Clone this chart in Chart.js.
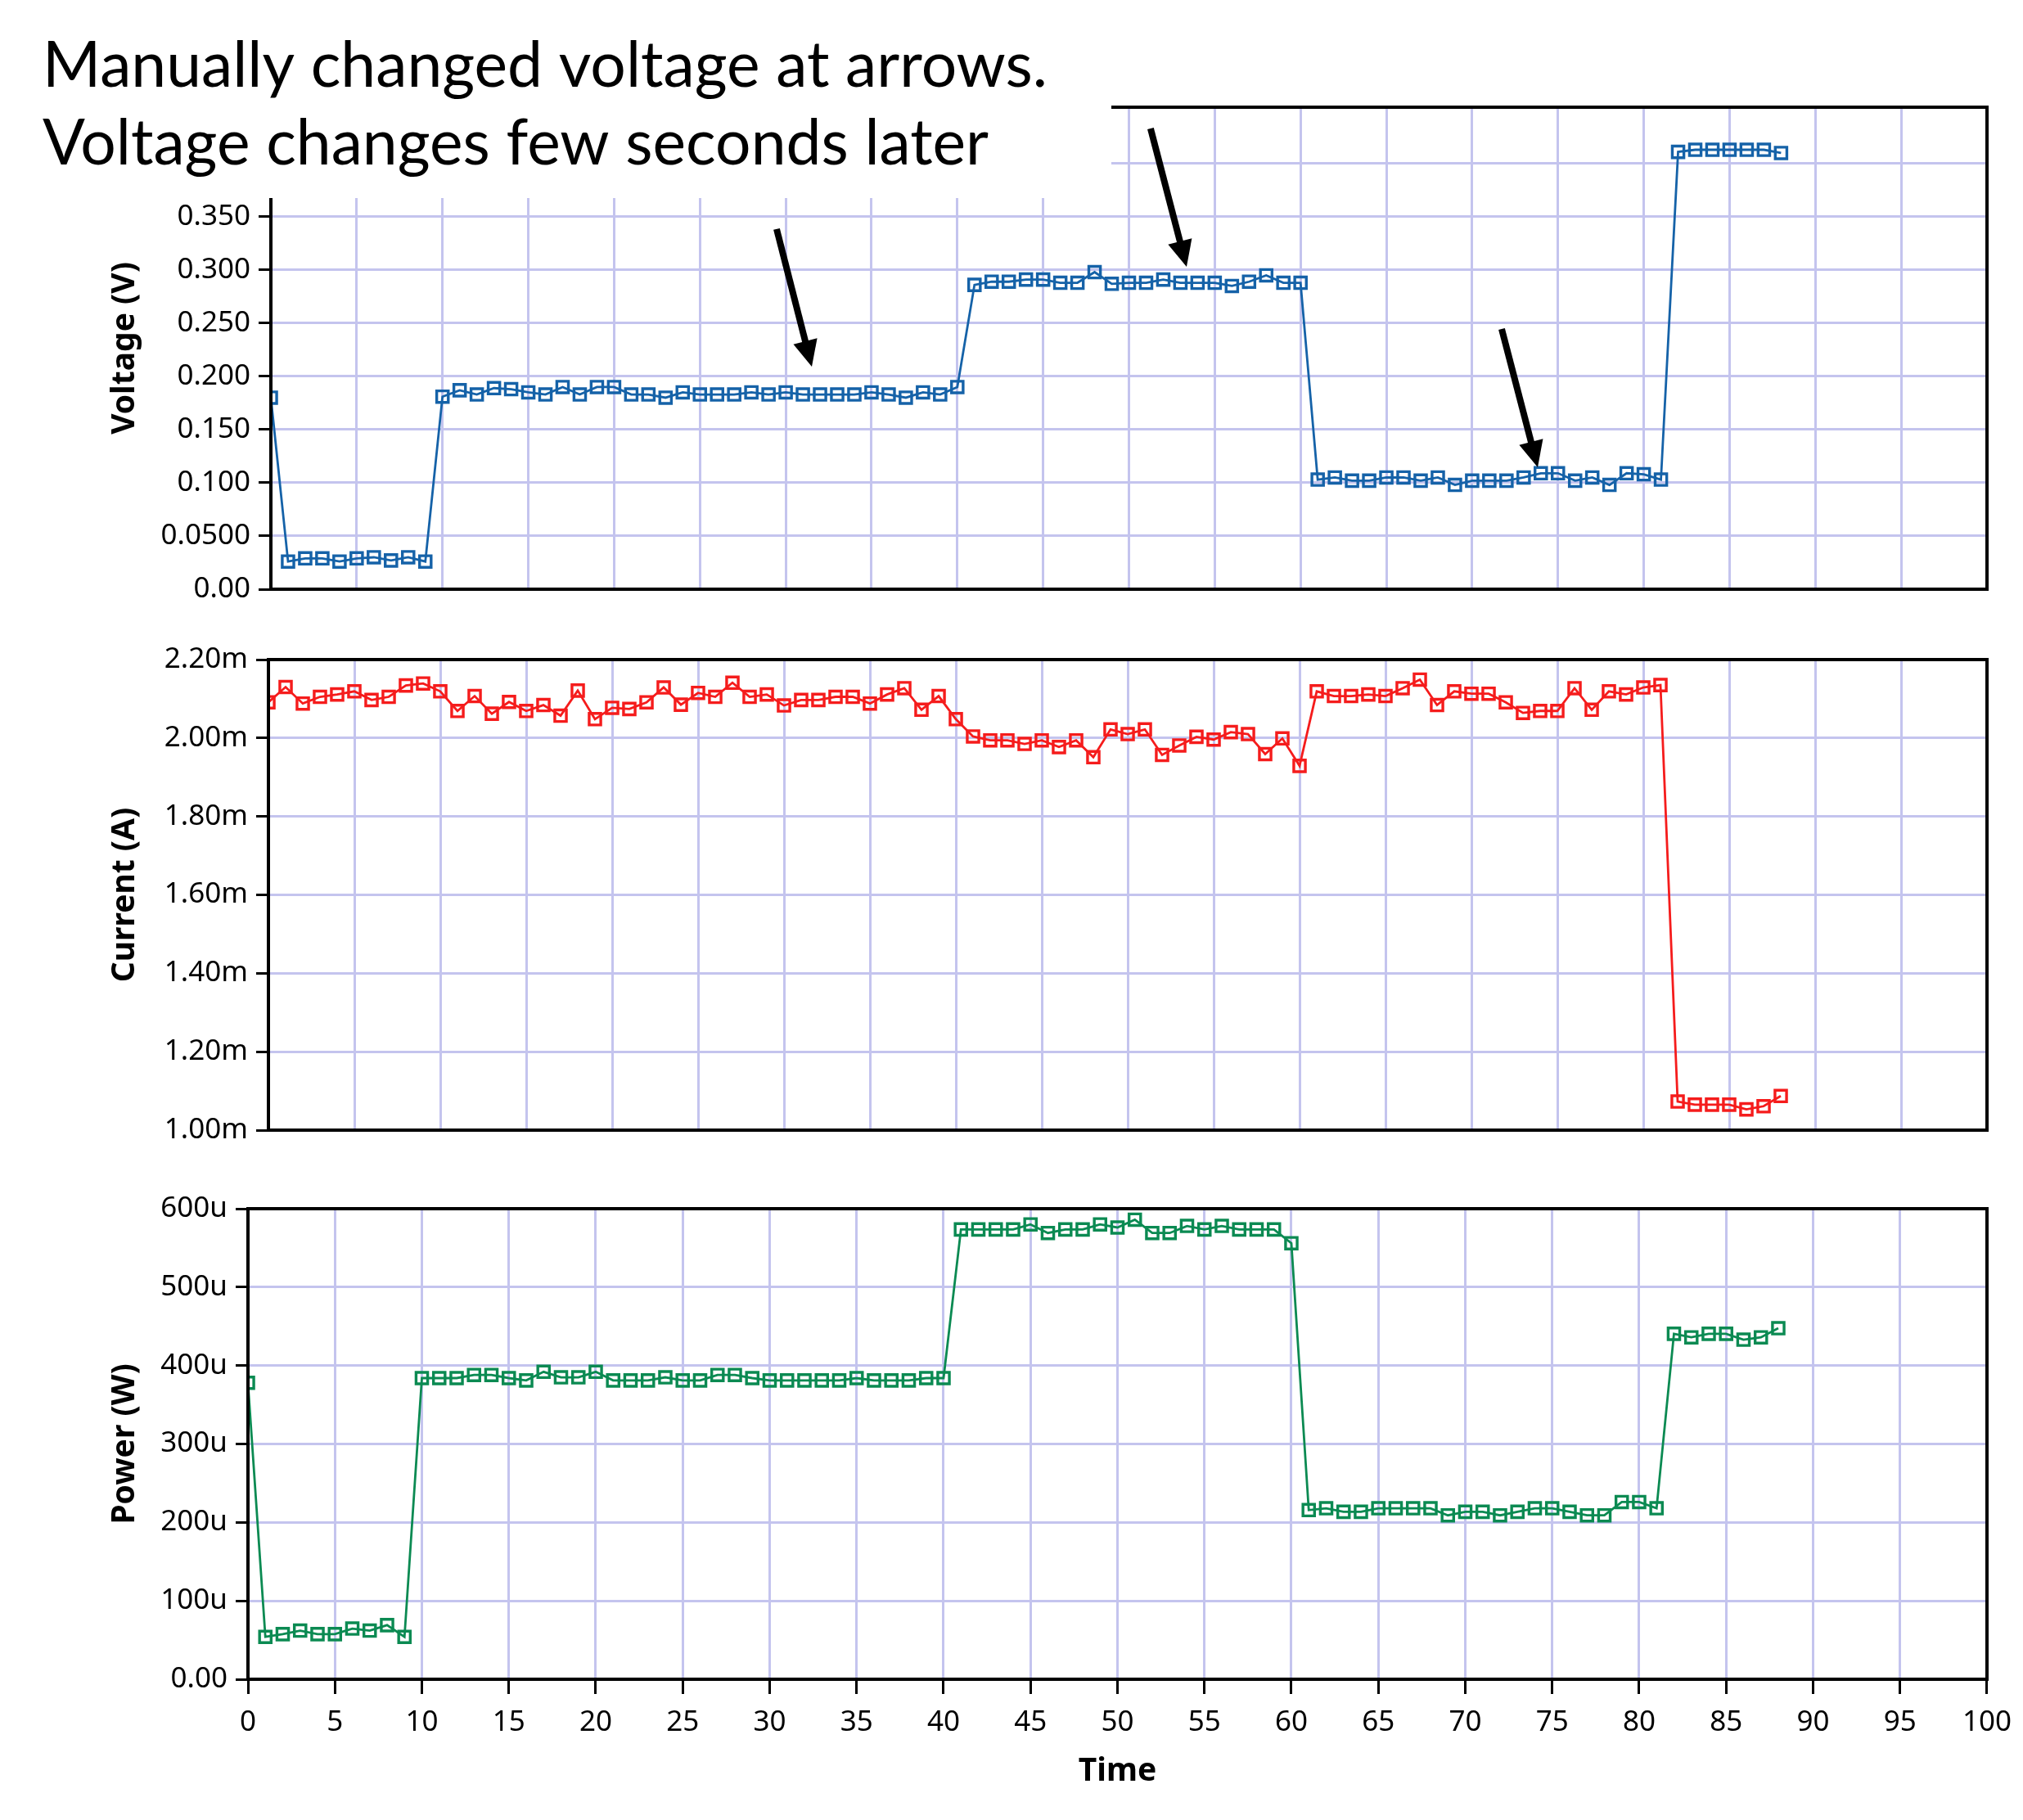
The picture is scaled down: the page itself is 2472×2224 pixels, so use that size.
<!DOCTYPE html>
<html><head><meta charset="utf-8">
<script src="https://cdn.jsdelivr.net/npm/chart.js@4.4.1/dist/chart.umd.min.js"></script>
<style>
html,body{margin:0;padding:0;background:#fff;}
#wrap{position:relative;width:2472px;height:2224px;overflow:hidden;background:#fff;}
canvas{position:absolute;left:0;}
</style></head><body>
<div id="wrap">
<canvas id="cV" width="2472" height="760" style="top:0px;width:2472px;height:760px"></canvas>
<canvas id="cI" width="2472" height="660" style="top:760px;width:2472px;height:660px"></canvas>
<canvas id="cP" width="2472" height="804" style="top:1420px;width:2472px;height:804px"></canvas>
</div>
<script>
// ---------------- DATA ----------------
const timeS = [0,1,2,3,4,5,6,7,8,9,10,11,12,13,14,15,16,17,18,19,20,21,22,23,24,25,26,27,28,29,
  30,31,32,33,34,35,36,37,38,39,40,41,42,43,44,45,46,47,48,49,50,51,52,53,54,55,56,57,58,59,
  60,61,62,63,64,65,66,67,68,69,70,71,72,73,74,75,76,77,78,79,80,81,82,83,84,85,86,87,88];

// Voltage (V)
const voltage = [0.180,0.026,0.029,0.029,0.026,0.029,0.030,0.027,0.030,0.026,
  0.181,0.187,0.183,0.189,0.188,0.185,0.183,0.190,0.183,0.190,
  0.190,0.183,0.183,0.180,0.185,0.183,0.183,0.183,0.185,0.183,
  0.185,0.183,0.183,0.183,0.183,0.185,0.183,0.180,0.185,0.183,
  0.190,0.286,0.289,0.289,0.291,0.291,0.288,0.288,0.298,0.287,
  0.288,0.288,0.291,0.288,0.288,0.288,0.285,0.289,0.295,0.288,
  0.288,0.103,0.105,0.102,0.102,0.105,0.105,0.102,0.105,0.098,
  0.102,0.102,0.102,0.105,0.109,0.109,0.102,0.105,0.098,0.109,
  0.108,0.103,0.411,0.413,0.413,0.413,0.413,0.413,0.410];

// Current (mA)
const currentMA = [2.091,2.130,2.088,2.105,2.111,2.119,2.097,2.105,2.134,2.139,
  2.119,2.069,2.107,2.062,2.092,2.069,2.084,2.057,2.121,2.048,
  2.077,2.074,2.091,2.129,2.085,2.115,2.105,2.141,2.105,2.111,
  2.083,2.097,2.097,2.105,2.105,2.088,2.111,2.127,2.072,2.107,
  2.048,2.004,1.994,1.994,1.985,1.994,1.977,1.994,1.951,2.022,
  2.010,2.022,1.957,1.981,2.003,1.996,2.015,2.010,1.959,1.999,
  1.929,2.119,2.107,2.107,2.111,2.107,2.127,2.149,2.084,2.119,
  2.113,2.113,2.091,2.064,2.069,2.069,2.127,2.072,2.119,2.111,
  2.129,2.135,1.073,1.065,1.065,1.065,1.053,1.061,1.087];

// Power (uW)
const powerUW = [378,54,57.5,62,57.5,57.5,64.6,62,69,54,
  384,384,384,388,388,384,381,392,385,385,
  392,381,381,381,385,381,381,388,388,384,
  381,381,381,381,381,384,381,381,381,384,
  384,573.5,573.5,573.5,573.5,580,569,573.5,573.5,580,
  576,586,569,569,578,573.5,578,573.5,573.5,573.5,
  556,215.7,218,213.5,213.5,218,218,218,218,209,
  213.5,213.5,209,213.5,218,218,213.5,209,209,226,
  226,218,440.5,436,440.5,440.5,433,436,447.6];

// Tick labels
const xTickLabels = ['0','5','10','15','20','25','30','35','40','45','50','55','60','65','70','75','80','85','90','95','100'];
const voltTickValues = [0,0.05,0.10,0.15,0.20,0.25,0.30,0.35,0.40];
const voltTickLabels = ['0.00','0.0500','0.100','0.150','0.200','0.250','0.300','0.350','0.400'];
const currTickValues = [1.0,1.2,1.4,1.6,1.8,2.0,2.2];
const currTickLabels = ['1.00m','1.20m','1.40m','1.60m','1.80m','2.00m','2.20m'];
const powTickValues = [0,100,200,300,400,500,600];
const powTickLabels = ['0.00','100u','200u','300u','400u','500u','600u'];

const titleLines = ['Manually changed voltage at arrows.','Voltage changes few seconds later'];
// arrows in voltage-plot data coordinates: [tailT, tailV, tipT, tipV]
const arrows = [[29.47,0.3385,31.52,0.2092],[51.26,0.433,53.36,0.303],[71.72,0.2446,73.82,0.1146]];

// ---------------- STYLE / LAYOUT ----------------
const GRID = '#c4c4ee';
const TICKFONT = {family:'Noto Sans', size:35};
const TITLEFONT = {family:'Noto Sans', size:39, weight:'bold'};
const xTickValues = xTickLabels.map(Number);

const framePlugin = {
  id:'frame',
  afterDatasetsDraw(chart){
    const a = chart.chartArea, ctx = chart.ctx;
    ctx.save(); ctx.strokeStyle='#000'; ctx.lineWidth=4;
    ctx.strokeRect(a.left, a.top, a.right-a.left, a.bottom-a.top);
    ctx.restore();
  }
};

const overlayPlugin = {
  id:'overlay',
  afterDraw(chart){
    const ctx = chart.ctx, xs = chart.scales.x, ys = chart.scales.y;
    ctx.save();
    // arrows
    ctx.fillStyle='#000'; ctx.strokeStyle='#000'; ctx.lineWidth=8;
    arrows.forEach(a=>{
      const x1=xs.getPixelForValue(a[0]), y1=ys.getPixelForValue(a[1]);
      const x2=xs.getPixelForValue(a[2]), y2=ys.getPixelForValue(a[3]);
      const ang=Math.atan2(y2-y1,x2-x1), L=32, W=15;
      const bx=x2-L*Math.cos(ang), by=y2-L*Math.sin(ang);
      ctx.beginPath(); ctx.moveTo(x1,y1); ctx.lineTo(bx+2*Math.cos(ang),by+2*Math.sin(ang)); ctx.stroke();
      ctx.beginPath(); ctx.moveTo(x2,y2);
      ctx.lineTo(bx+W*Math.sin(ang), by-W*Math.cos(ang));
      ctx.lineTo(bx-W*Math.sin(ang), by+W*Math.cos(ang));
      ctx.closePath(); ctx.fill();
    });
    // white title box
    ctx.fillStyle='#fff';
    ctx.fillRect(0,0,1358,242);
    ctx.fillStyle='#000';
    ctx.font='78px Lato';
    ctx.textBaseline='alphabetic';
    const w0 = ctx.measureText(titleLines[0]).width;
    const sx = 1228 / w0;
    const baselines=[106,201];
    titleLines.forEach((t,i)=>{
      ctx.save(); ctx.translate(52, baselines[i]); ctx.scale(sx,1);
      ctx.fillText(t,0,0); ctx.restore();
    });
    ctx.restore();
  }
};

function makeChart(id, values, color, yMin, yMax, yTickVals, yTickLabs, yTitle, yWidth, padTop, padBottom, showX, extraPlugins){
  const ctx = document.getElementById(id);
  return new Chart(ctx, {
    type:'line',
    data:{ datasets:[{
      data: timeS.map((t,i)=>({x:t, y:values[i]})),
      borderColor:color, borderWidth:2.8, tension:0, fill:false,
      pointStyle:'rect', pointRadius:10, pointBorderWidth:3.4,
      pointBorderColor:color, pointBackgroundColor:'rgba(255,255,255,0)'
    }]},
    options:{
      responsive:false, animation:false, devicePixelRatio:1,
      layout:{padding:{top:padTop, bottom:padBottom, left:0, right:44}},
      plugins:{legend:{display:false}, tooltip:{enabled:false}},
      scales:{
        x:{ type:'linear', min:0, max:100,
          afterBuildTicks:s=>{ s.ticks = xTickValues.map(v=>({value:v})); },
          afterFit:s=>{ s.height = showX ? 172 : 0; },
          ticks:{ display:showX, callback:(v,i)=>xTickLabels[i], font:TICKFONT, color:'#000', padding:14, maxRotation:0, autoSkip:false },
          grid:{ color:GRID, lineWidth:3, drawTicks:showX, tickColor:'#000', tickLength:18, tickWidth:3 },
          border:{display:false},
          title:{ display:showX, text:'Time', font:TITLEFONT, color:'#000', padding:{top:0, bottom:36} }
        },
        y:{ type:'linear', min:yMin, max:yMax,
          afterBuildTicks:s=>{ s.ticks = yTickVals.map(v=>({value:v})); },
          afterFit:s=>{ s.width = yWidth; },
          ticks:{ callback:(v,i)=>yTickLabs[i], font:TICKFONT, color:'#000', padding:10, autoSkip:false },
          grid:{ color:GRID, lineWidth:3, tickColor:'#000', tickLength:15, tickWidth:3 },
          border:{display:false},
          title:{ display:true, text:yTitle, font:TITLEFONT, color:'#000', padding:{top:129, bottom:0} }
        }
      }
    },
    plugins:[framePlugin].concat(extraPlugins||[])
  });
}

makeChart('cV', voltage, '#1562a8', 0, 0.453, voltTickValues, voltTickLabels, 'Voltage (V)', 331, 131, 40, false, [overlayPlugin]);
makeChart('cI', currentMA, '#f51c1c', 1.0, 2.2, currTickValues, currTickLabels, 'Current (A)', 328, 46, 39, false);
makeChart('cP', powerUW, '#0b8a52', 0, 600, powTickValues, powTickLabels, 'Power (W)', 303, 57, 0, true);
</script>
</body></html>
